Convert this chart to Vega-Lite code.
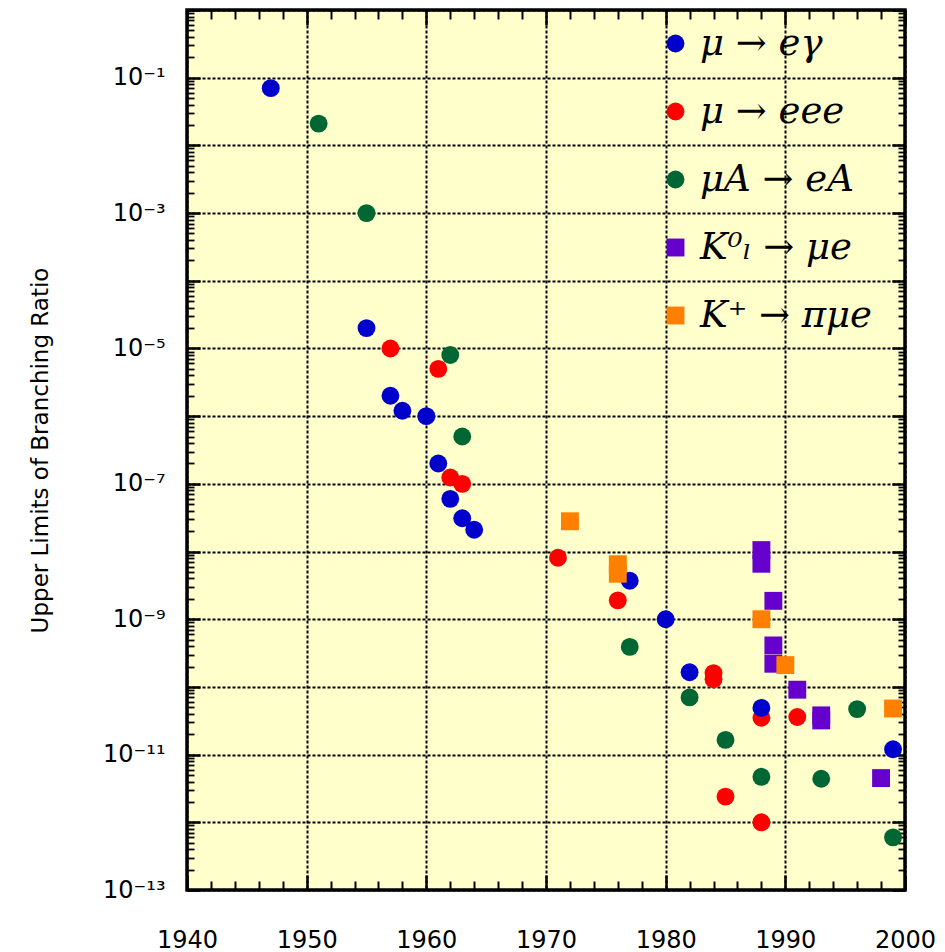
{
  "$schema": "https://vega.github.io/schema/vega-lite/v6.json",
  "width": 718,
  "height": 880,
  "autosize": {"type": "none"},
  "padding": {"left": 187, "top": 10, "right": 40, "bottom": 62},
  "background": "white",
  "config": {
    "view": {"fill": "#FFFFCC", "stroke": "black", "strokeWidth": 3.5},
    "axis": {"domain": false, "tickColor": "black", "labelColor": "black", "gridColor": "black", "titleColor": "black"}
  },
  "data": {
    "values": [
      {"year": 1951, "ratio": 2.1e-2, "process": "μA → eA"},
      {"year": 1955, "ratio": 1e-3, "process": "μA → eA"},
      {"year": 1962, "ratio": 8e-6, "process": "μA → eA"},
      {"year": 1963, "ratio": 5e-7, "process": "μA → eA"},
      {"year": 1977, "ratio": 3.9e-10, "process": "μA → eA"},
      {"year": 1982, "ratio": 7e-11, "process": "μA → eA"},
      {"year": 1985, "ratio": 1.65e-11, "process": "μA → eA"},
      {"year": 1988, "ratio": 4.7e-12, "process": "μA → eA"},
      {"year": 1993, "ratio": 4.4e-12, "process": "μA → eA"},
      {"year": 1996, "ratio": 4.7e-11, "process": "μA → eA"},
      {"year": 1999, "ratio": 6e-13, "process": "μA → eA"},
      {"year": 1947, "ratio": 0.07, "process": "μ → eγ"},
      {"year": 1955, "ratio": 2e-5, "process": "μ → eγ"},
      {"year": 1957, "ratio": 2e-6, "process": "μ → eγ"},
      {"year": 1958, "ratio": 1.2e-6, "process": "μ → eγ"},
      {"year": 1960, "ratio": 1e-6, "process": "μ → eγ"},
      {"year": 1961, "ratio": 2e-7, "process": "μ → eγ"},
      {"year": 1962, "ratio": 6e-8, "process": "μ → eγ"},
      {"year": 1963, "ratio": 3.1e-8, "process": "μ → eγ"},
      {"year": 1964, "ratio": 2.1e-8, "process": "μ → eγ"},
      {"year": 1977, "ratio": 3.7e-9, "process": "μ → eγ"},
      {"year": 1980, "ratio": 1e-9, "process": "μ → eγ"},
      {"year": 1982, "ratio": 1.65e-10, "process": "μ → eγ"},
      {"year": 1999, "ratio": 1.2e-11, "process": "μ → eγ"},
      {"year": 1957, "ratio": 1e-5, "process": "μ → eee"},
      {"year": 1961, "ratio": 5e-6, "process": "μ → eee"},
      {"year": 1962, "ratio": 1.24e-7, "process": "μ → eee"},
      {"year": 1963, "ratio": 1e-7, "process": "μ → eee"},
      {"year": 1971, "ratio": 8.1e-9, "process": "μ → eee"},
      {"year": 1976, "ratio": 1.9e-9, "process": "μ → eee"},
      {"year": 1984, "ratio": 1.6e-10, "process": "μ → eee"},
      {"year": 1984, "ratio": 1.3e-10, "process": "μ → eee"},
      {"year": 1988, "ratio": 3.5e-11, "process": "μ → eee"},
      {"year": 1991, "ratio": 3.6e-11, "process": "μ → eee"},
      {"year": 1985, "ratio": 2.4e-12, "process": "μ → eee"},
      {"year": 1988, "ratio": 1e-12, "process": "μ → eee"},
      {"year": 1988, "ratio": 4.9e-11, "process": "μ → eγ"},
      {"year": 1988, "ratio": 1.05e-8, "process": "K⁰ₗ → μe"},
      {"year": 1988, "ratio": 6.6e-9, "process": "K⁰ₗ → μe"},
      {"year": 1989, "ratio": 1.87e-9, "process": "K⁰ₗ → μe"},
      {"year": 1989, "ratio": 4.1e-10, "process": "K⁰ₗ → μe"},
      {"year": 1989, "ratio": 2.2e-10, "process": "K⁰ₗ → μe"},
      {"year": 1991, "ratio": 9.1e-11, "process": "K⁰ₗ → μe"},
      {"year": 1993, "ratio": 3.8e-11, "process": "K⁰ₗ → μe"},
      {"year": 1993, "ratio": 3.2e-11, "process": "K⁰ₗ → μe"},
      {"year": 1998, "ratio": 4.5e-12, "process": "K⁰ₗ → μe"},
      {"year": 1972, "ratio": 2.8e-8, "process": "K⁺ → πμe"},
      {"year": 1976, "ratio": 6.5e-9, "process": "K⁺ → πμe"},
      {"year": 1976, "ratio": 4.7e-9, "process": "K⁺ → πμe"},
      {"year": 1988, "ratio": 1e-9, "process": "K⁺ → πμe"},
      {"year": 1990, "ratio": 2.1e-10, "process": "K⁺ → πμe"},
      {"year": 1999, "ratio": 4.8e-11, "process": "K⁺ → πμe"}
    ]
  },
  "resolve": {"axis": {"x": "independent", "y": "independent"}},
  "layer": [
    {
      "mark": {"type": "point", "filled": true, "opacity": 1, "strokeWidth": 0},
      "encoding": {
        "x": {
          "field": "year", "type": "quantitative",
          "scale": {"domain": [1940, 2000], "nice": false, "zero": false},
          "axis": {
            "orient": "bottom",
            "values": [1940, 1942, 1944, 1946, 1948, 1950, 1952, 1954, 1956, 1958, 1960, 1962, 1964, 1966, 1968, 1970, 1972, 1974, 1976, 1978, 1980, 1982, 1984, 1986, 1988, 1990, 1992, 1994, 1996, 1998, 2000],
            "format": "d",
            "labelExpr": "datum.value % 10 == 0 ? datum.label : ''",
            "labelFont": "DejaVu Sans", "labelFontSize": 24, "labelBaseline": "top", "labelPadding": 53,
            "labelFlush": false, "labelOverlap": false,
            "tickSize": -15,
            "tickDash": {"condition": {"test": "datum.value % 10 == 0", "value": [30, 1]}, "value": [9, 30]},
            "tickWidth": {"condition": {"test": "datum.value % 10 == 0", "value": 2.5}, "value": 2},
            "grid": true, "gridDash": [3, 2], "gridWidth": 2,
            "gridOpacity": {"condition": {"test": "datum.value % 10 == 0", "value": 1}, "value": 0},
            "title": null
          }
        },
        "y": {
          "field": "ratio", "type": "quantitative",
          "scale": {"type": "log", "domain": [1e-13, 1], "nice": false},
          "axis": {
            "orient": "left",
            "tickCount": 200,
            "labelExpr": "abs(log(datum.value)/LN10 - round(log(datum.value)/LN10)) < 0.001 ? ['10⁻¹³','','10⁻¹¹','','10⁻⁹','','10⁻⁷','','10⁻⁵','','10⁻³','','10⁻¹',''][round(log(datum.value)/LN10)+13] : ''",
            "labelFont": "DejaVu Sans", "labelFontSize": 24, "labelPadding": 35, "labelAlign": "right", "labelBaseline": "middle",
            "labelFlush": false, "labelOverlap": false,
            "tickSize": -13,
            "tickDash": {"condition": {"test": "abs(log(datum.value)/LN10 - round(log(datum.value)/LN10)) < 0.001", "value": [30, 1]}, "value": [7, 30]},
            "tickWidth": {"condition": {"test": "abs(log(datum.value)/LN10 - round(log(datum.value)/LN10)) < 0.001", "value": 2.5}, "value": 1.8},
            "grid": true, "gridDash": [3, 2], "gridWidth": 2,
            "gridOpacity": {"condition": {"test": "abs(log(datum.value)/LN10 - round(log(datum.value)/LN10)) < 0.001", "value": 1}, "value": 0},
            "title": "Upper Limits of Branching Ratio",
            "titleFont": "DejaVu Sans", "titleFontSize": 23, "titleFontWeight": "normal",
            "titleAngle": 270, "titleX": -140, "titleY": 440, "titleBaseline": "alphabetic", "titleAlign": "center"
          }
        },
        "color": {
          "field": "process", "type": "nominal",
          "scale": {"domain": ["μ → eγ", "μ → eee", "μA → eA", "K⁰ₗ → μe", "K⁺ → πμe"], "range": ["#0000CC", "#FF0000", "#006633", "#6600CC", "#FF8000"]},
          "legend": {"orient": "none", "legendX": 470, "legendY": 15, "title": null, "padding": 0, "labelFont": "DejaVu Serif", "labelFontStyle": "italic", "labelFontSize": 37, "labelColor": "black", "labelOffset": 6, "labelLimit": 0, "rowPadding": 30, "symbolStrokeWidth": 0, "symbolOpacity": 1}
        },
        "shape": {
          "field": "process", "type": "nominal",
          "scale": {"domain": ["μ → eγ", "μ → eee", "μA → eA", "K⁰ₗ → μe", "K⁺ → πμe"], "range": ["circle", "circle", "circle", "square", "square"]},
          "legend": {"orient": "none", "legendX": 470, "legendY": 15, "title": null, "padding": 0, "labelFont": "DejaVu Serif", "labelFontStyle": "italic", "labelFontSize": 37, "labelColor": "black", "labelOffset": 6, "labelLimit": 0, "rowPadding": 30, "symbolStrokeWidth": 0, "symbolOpacity": 1}
        },
        "size": {
          "field": "process", "type": "nominal",
          "scale": {"domain": ["μ → eγ", "μ → eee", "μA → eA", "K⁰ₗ → μe", "K⁺ → πμe"], "range": [320, 320, 320, 484, 484]},
          "legend": {"orient": "none", "legendX": 470, "legendY": 15, "title": null, "padding": 0, "labelFont": "DejaVu Serif", "labelFontStyle": "italic", "labelFontSize": 37, "labelColor": "black", "labelOffset": 6, "labelLimit": 0, "rowPadding": 30, "symbolStrokeWidth": 0, "symbolOpacity": 1}
        }
      }
    },
    {
      "mark": {"type": "point", "opacity": 0},
      "encoding": {
        "x": {"field": "year", "type": "quantitative", "scale": {"domain": [1940, 2000], "nice": false, "zero": false},
          "axis": {"orient": "top",
            "values": [1940, 1942, 1944, 1946, 1948, 1950, 1952, 1954, 1956, 1958, 1960, 1962, 1964, 1966, 1968, 1970, 1972, 1974, 1976, 1978, 1980, 1982, 1984, 1986, 1988, 1990, 1992, 1994, 1996, 1998, 2000],
            "labels": false, "grid": false, "title": null,
            "tickSize": -15,
            "tickDash": {"condition": {"test": "datum.value % 10 == 0", "value": [30, 1]}, "value": [9, 30]},
            "tickWidth": {"condition": {"test": "datum.value % 10 == 0", "value": 2.5}, "value": 2}}},
        "y": {"field": "ratio", "type": "quantitative", "scale": {"type": "log", "domain": [1e-13, 1], "nice": false},
          "axis": {"orient": "right", "tickCount": 200, "labels": false, "grid": false, "title": null,
            "tickSize": -13,
            "tickDash": {"condition": {"test": "abs(log(datum.value)/LN10 - round(log(datum.value)/LN10)) < 0.001", "value": [30, 1]}, "value": [7, 30]},
            "tickWidth": {"condition": {"test": "abs(log(datum.value)/LN10 - round(log(datum.value)/LN10)) < 0.001", "value": 2.5}, "value": 1.8}}}
      }
    }
  ]
}
